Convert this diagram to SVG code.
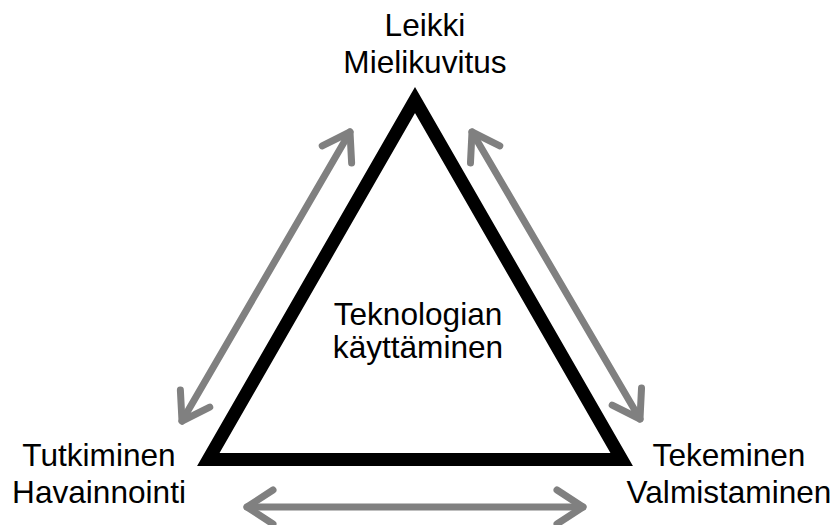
<svg xmlns="http://www.w3.org/2000/svg" width="837" height="525" viewBox="0 0 837 525">
<style>
.lbl{font-family:"Liberation Sans",Arial,sans-serif;font-size:31.6px;fill:#000;text-anchor:middle}
.arr{fill:none;stroke:#808080;stroke-width:7;stroke-linecap:round;stroke-linejoin:round}
</style>
<defs>
<marker id="head" markerUnits="userSpaceOnUse" viewBox="-34 -24 40 48" markerWidth="40" markerHeight="48" refX="0" refY="0" orient="auto-start-reverse">
<path d="M-26,-17 L0,0 L-26,17" fill="none" stroke="#808080" stroke-width="7" stroke-linecap="round" stroke-linejoin="round"/>
</marker>
</defs>
<rect width="837" height="525" fill="#fff"/>
<g id="connectors">
<line class="arr" x1="182" y1="421" x2="350" y2="132" marker-start="url(#head)" marker-end="url(#head)"/>
<line class="arr" x1="472" y1="132" x2="640" y2="419" marker-start="url(#head)" marker-end="url(#head)"/>
<line class="arr" x1="247" y1="507" x2="583" y2="507" marker-start="url(#head)" marker-end="url(#head)"/>
</g>
<g id="triangle">
<path d="M415,100 L208.3,459.5 L621.7,459.5 Z" fill="none" stroke="#000" stroke-width="13" stroke-linejoin="miter" stroke-miterlimit="10"/>
</g>
<g id="node-top">
<text class="lbl" x="425" y="36">Leikki</text>
<text class="lbl" x="425" y="73">Mielikuvitus</text>
</g>
<g id="node-center">
<text class="lbl" x="418" y="325">Teknologian</text>
<text class="lbl" x="418" y="358">käyttäminen</text>
</g>
<g id="node-left">
<text class="lbl" x="99" y="466">Tutkiminen</text>
<text class="lbl" x="99" y="503">Havainnointi</text>
</g>
<g id="node-right">
<text class="lbl" x="729" y="466">Tekeminen</text>
<text class="lbl" x="729" y="503">Valmistaminen</text>
</g>
</svg>
